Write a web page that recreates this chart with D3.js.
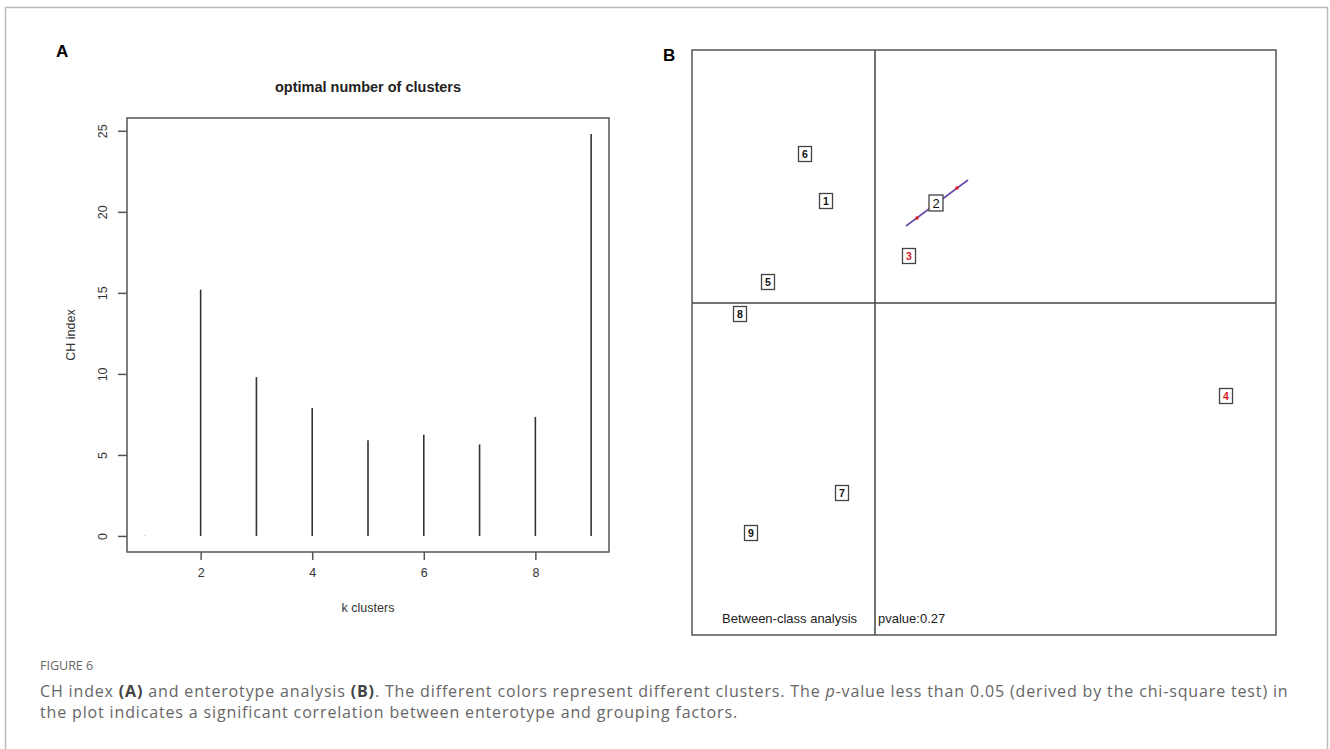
<!DOCTYPE html>
<html>
<head>
<meta charset="utf-8">
<script src="https://cdnjs.cloudflare.com/ajax/libs/d3/7.8.5/d3.min.js"></script>
<style>
    body { margin: 0; background: #fff; }
    svg { display: block; }
    .rtext { font-family: "Liberation Sans", Arial, sans-serif; fill: #333; }
    .cap { font-family: "Open Sans", "Noto Sans", sans-serif; fill: #666; }
</style>
</head>
<body>
<svg id="fig" width="1330" height="749"></svg>
<script>
    //////////// DATA ////////////

    // panel A : CH index per k
    var kClusters = [1, 2, 3, 4, 5, 6, 7, 8, 9];
    var chIndex = [0, 15.2, 9.8, 7.9, 5.9, 6.25, 5.65, 7.35, 24.8];
    var xTicksA = [2, 4, 6, 8];
    var yTicksA = [0, 5, 10, 15, 20, 25];

    // panel B : between-class analysis sample positions
    var classLabels = ["1", "2", "3", "4", "5", "6", "7", "8", "9"];
    var classX = [-0.245, 0.305, 0.17, 1.755, -0.535, -0.35, -0.165, -0.675, -0.62];
    var classY = [0.51, 0.50, 0.235, -0.465, 0.105, 0.745, -0.95, -0.055, -1.15];
    var classColor = ["#111", "#111", "#d7191c", "#d7191c", "#111", "#111", "#111", "#111", "#111"];
    // star segment through class 2
    var segX = [0.155, 0.465];
    var segY = [0.385, 0.615];
    var dotX = [0.21, 0.41];
    var dotY = [0.425, 0.575];

    var svg = d3.select("#fig");

    // outer frame
    svg.append("rect")
        .attr("x", 5.5).attr("y", 7.5)
        .attr("width", 1322).attr("height", 760)
        .attr("fill", "none").attr("stroke", "#bbb").attr("stroke-width", 1.5);

    //////////// PANEL A ////////////

    var xA = d3.scaleLinear().domain([0.68, 9.32]).range([127, 609]);
    var yA = d3.scaleLinear().domain([-0.99, 25.79]).range([552, 118]);

    var gA = svg.append("g");

    gA.append("text").attr("class", "rtext")
        .attr("x", 56).attr("y", 57)
        .style("font-size", "17px").style("font-weight", "bold").style("fill", "#000")
        .text("A");

    gA.append("text").attr("class", "rtext")
        .attr("x", 368).attr("y", 92)
        .attr("text-anchor", "middle")
        .style("font-size", "14.5px").style("font-weight", "bold").style("fill", "#222")
        .text("optimal number of clusters");

    gA.append("rect")
        .attr("x", 127).attr("y", 118)
        .attr("width", 609 - 127).attr("height", 552 - 118)
        .attr("fill", "none").attr("stroke", "#555").attr("stroke-width", 1.5);

    // x axis
    var axisX = gA.append("g")
        .attr("transform", "translate(0,552)")
        .call(d3.axisBottom(xA).tickValues(xTicksA).tickSize(8).tickPadding(8).tickFormat(d3.format("d")));
    axisX.select(".domain").remove();
    axisX.selectAll("line").attr("stroke", "#555").attr("stroke-width", 1.5);
    axisX.selectAll("text").attr("class", "rtext").style("font-size", "12.5px").attr("fill", "#333");

    // y axis with rotated labels (R style)
    var axisY = gA.append("g")
        .attr("transform", "translate(127,0)")
        .call(d3.axisLeft(yA).tickValues(yTicksA).tickSize(9).tickFormat(d3.format("d")));
    axisY.select(".domain").remove();
    axisY.selectAll("line").attr("stroke", "#555").attr("stroke-width", 1.5);
    axisY.selectAll("text")
        .attr("class", "rtext")
        .style("font-size", "12.5px").attr("fill", "#333")
        .attr("text-anchor", "middle")
        .attr("x", 0).attr("dy", 0)
        .attr("transform", "translate(-20,0) rotate(-90)");

    gA.append("text").attr("class", "rtext")
        .attr("transform", "translate(75,335) rotate(-90)")
        .attr("text-anchor", "middle")
        .style("font-size", "12.5px")
        .text("CH index");

    gA.append("text").attr("class", "rtext")
        .attr("x", 368).attr("y", 612)
        .attr("text-anchor", "middle")
        .style("font-size", "12.5px")
        .text("k clusters");

    // histogram-like vertical bars (type = "h")
    gA.append("g").selectAll("line")
        .data(kClusters)
        .enter().append("line")
        .attr("x1", function (d) { return xA(d); })
        .attr("x2", function (d) { return xA(d); })
        .attr("y1", yA(0))
        .attr("y2", function (d, i) { return chIndex[i] > 0 ? yA(chIndex[i]) : yA(0) - 0.6; })
        .attr("stroke", function (d, i) { return chIndex[i] > 0 ? "#333" : "#ccc"; })
        .attr("stroke-width", 1.6);

    //////////// PANEL B ////////////

    var bx0 = 692, bx1 = 1276, by0 = 50, by1 = 635;
    var xB = d3.scaleLinear().domain([-0.915, 2.005]).range([bx0, bx1]);
    var yB = d3.scaleLinear().domain([-1.66, 1.265]).range([by1, by0]);

    var gB = svg.append("g");

    gB.append("text").attr("class", "rtext")
        .attr("x", 663).attr("y", 61)
        .style("font-size", "17px").style("font-weight", "bold").style("fill", "#000")
        .text("B");

    gB.append("rect")
        .attr("x", bx0).attr("y", by0)
        .attr("width", bx1 - bx0).attr("height", by1 - by0)
        .attr("fill", "none").attr("stroke", "#555").attr("stroke-width", 1.5);

    // zero axes
    gB.append("line")
        .attr("x1", xB(0)).attr("x2", xB(0)).attr("y1", by0).attr("y2", by1)
        .attr("stroke", "#444").attr("stroke-width", 1.5);
    gB.append("line")
        .attr("x1", bx0).attr("x2", bx1).attr("y1", yB(0)).attr("y2", yB(0))
        .attr("stroke", "#444").attr("stroke-width", 1.5);

    // star segment
    gB.append("line")
        .attr("x1", xB(segX[0])).attr("y1", yB(segY[0]))
        .attr("x2", xB(segX[1])).attr("y2", yB(segY[1]))
        .attr("stroke", "#6b4aa8").attr("stroke-width", 1.6);
    gB.append("g").selectAll("circle")
        .data(dotX)
        .enter().append("circle")
        .attr("cx", function (d) { return xB(d); })
        .attr("cy", function (d, i) { return yB(dotY[i]); })
        .attr("r", 1.8)
        .attr("fill", "#e0202a");

    // boxed class labels
    var lab = gB.append("g").selectAll("g")
        .data(classLabels)
        .enter().append("g")
        .attr("transform", function (d, i) {
            return "translate(" + xB(classX[i]) + "," + yB(classY[i]) + ")";
        });

    lab.append("rect")
        .attr("x", function (d) { return d === "2" ? -7 : -6.5; })
        .attr("y", function (d) { return d === "2" ? -8 : -7.5; })
        .attr("width", function (d) { return d === "2" ? 14 : 13; })
        .attr("height", function (d) { return d === "2" ? 16 : 15; })
        .attr("fill", "#fff").attr("stroke", "#444").attr("stroke-width", 1.3);

    lab.append("text").attr("class", "rtext")
        .attr("text-anchor", "middle")
        .attr("dy", "0.36em")
        .style("font-size", function (d) { return d === "2" ? "13px" : "10.5px"; })
        .style("font-weight", function (d) { return d === "2" ? "normal" : "bold"; })
        .style("fill", function (d, i) { return classColor[i]; })
        .text(function (d) { return d; });

    // sub title, split round the vertical axis like the original
    gB.append("text").attr("class", "rtext")
        .attr("x", 722).attr("y", by1 - 12)
        .style("font-size", "13px").style("fill", "#222")
        .text("Between-class analysis");
    gB.append("text").attr("class", "rtext")
        .attr("x", xB(0) + 3).attr("y", by1 - 12)
        .style("font-size", "13px").style("fill", "#222")
        .text("pvalue:0.27");

    //////////// CAPTION ////////////

    svg.append("text").attr("class", "cap")
        .attr("x", 40).attr("y", 670)
        .style("font-size", "12.5px")
        .text("FIGURE 6");

    var capLines = [
        ["CH index ", "(A)", " and enterotype analysis ", "(B)", ". The different colors represent different clusters. The ", "p", "-value less than 0.05 (derived by the chi-square test) in"],
        ["the plot indicates a significant correlation between enterotype and grouping factors."]
    ];
    capLines.forEach(function (parts, li) {
        var t = svg.append("text").attr("class", "cap")
            .attr("x", 40).attr("y", 697 + li * 21)
            .style("font-size", "16px")
            .style("letter-spacing", "0.85px");
        parts.forEach(function (p) {
            var s = t.append("tspan").text(p);
            if (p === "(A)" || p === "(B)") s.style("font-weight", "bold").style("fill", "#444");
            if (p === "p") s.style("font-style", "italic");
        });
    });
</script>
</body>
</html>
